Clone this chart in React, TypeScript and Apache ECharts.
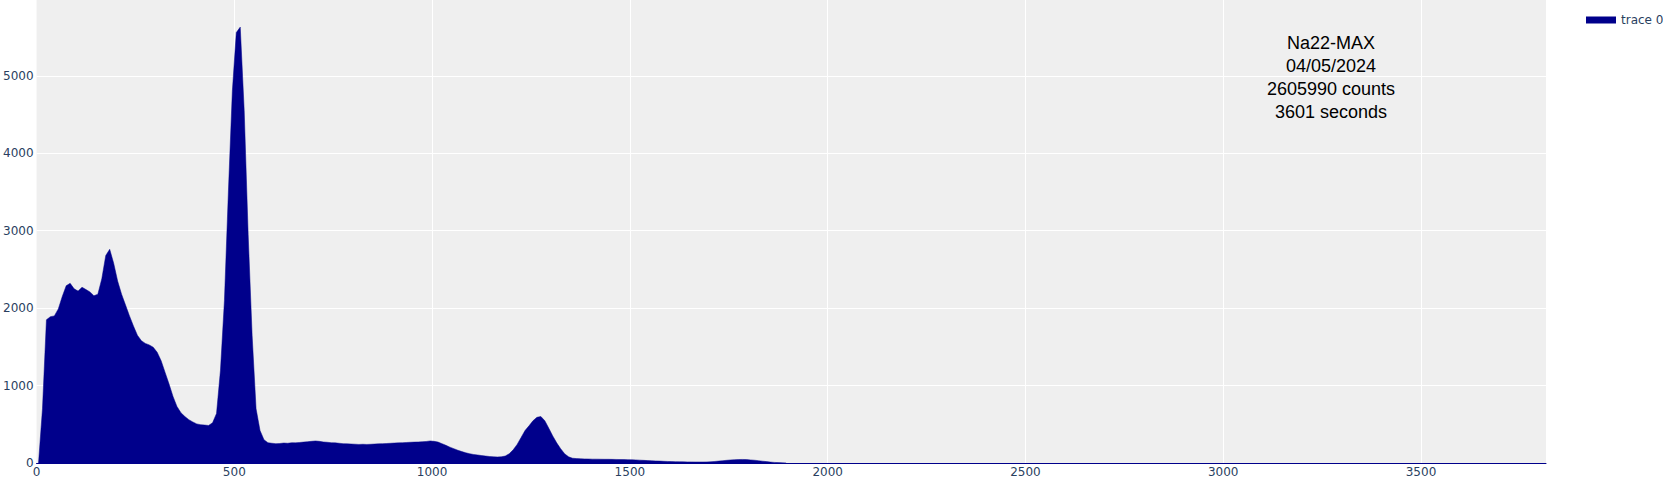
import React, { useEffect, useRef } from "react";
import * as echarts from "echarts";

// Histogram bin width (channels) and counts per channel
const BIN_WIDTH = 10;
const counts: number[] = [
  // 0 - 190
  0, 700, 1850, 1890, 1900, 1990, 2150, 2290, 2320, 2250,
  2220, 2270, 2240, 2210, 2160, 2180, 2380, 2680, 2760, 2580,
  // 200 - 390
  2350, 2180, 2040, 1900, 1770, 1650, 1580, 1545, 1525, 1495,
  1430, 1320, 1170, 1020, 860, 730, 650, 600, 560, 530,
  // 400 - 590
  505, 495, 490, 485, 520, 640, 1200, 2100, 3500, 4800,
  5560, 5630, 4550, 2950, 1650, 700, 420, 300, 262, 255,
  // 600 - 790
  250, 252, 258, 255, 262, 260, 265, 270, 275, 280,
  285, 280, 272, 268, 262, 260, 255, 250, 248, 245,
  // 800 - 990
  243, 240, 242, 240, 242, 245, 248, 250, 252, 255,
  258, 260, 262, 265, 268, 270, 272, 275, 278, 285,
  // 1000 - 1190
  280, 270, 250, 228, 205, 185, 165, 148, 132, 120,
  110, 104, 96, 90, 84, 80, 78, 80, 90, 120,
  // 1200 - 1390
  170, 240, 330, 420, 480, 545, 590, 600, 545, 450,
  350, 260, 185, 120, 80, 62, 57, 55, 53, 52,
  // 1400 - 1590
  50, 50, 49, 48, 48, 47, 46, 45, 44, 43,
  42, 40, 37, 34, 31, 29, 27, 25, 22, 20,
  // 1600 - 1790
  18, 17, 16, 15, 14, 14, 13, 13, 13, 14,
  16, 20, 25, 30, 35, 40, 43, 45, 46, 44,
  // 1800 - 1890
  40, 36, 30, 24, 18, 12, 8, 5, 3, 1,
];

const xTicks = [0, 500, 1000, 1500, 2000, 2500, 3000, 3500];
const yTicks = [0, 1000, 2000, 3000, 4000, 5000];
const annotationLines = ["Na22-MAX", "04/05/2024", "2605990 counts", "3601 seconds"];
const traceName = "trace 0";

const X_MAX = 3816;
const Y_MAX = 5980;
const BAR_COLOR = "#00008b";
const TICK_COLOR = "#2a3f5f";
const TICK_FONT = "'DejaVu Sans', Verdana, sans-serif";

export default function App() {
  const ref = useRef<HTMLDivElement>(null);

  useEffect(() => {
    if (!ref.current) return;
    const chart = echarts.init(ref.current, undefined, { renderer: "svg" });

    // each bin drawn at its centre
    const data: [number, number][] = counts.map((c, i) => [i * BIN_WIDTH + BIN_WIDTH / 2, c]);

    chart.setOption({
      animation: false,
      backgroundColor: "#ffffff",
      textStyle: { fontFamily: TICK_FONT },
      grid: {
        left: 33,
        right: 1663 - 1546,
        top: 0,
        bottom: 480 - 463,
        show: true,
        backgroundColor: "#efefef",
        borderWidth: 0,
        containLabel: false,
      },
      legend: {
        left: 1581,
        top: 9,
        itemWidth: 30,
        itemHeight: 7,
        itemGap: 5,
        icon: "rect",
        data: [{ name: traceName, icon: "rect", itemStyle: { color: BAR_COLOR } }],
        textStyle: {
          color: TICK_COLOR,
          fontSize: 12,
          fontFamily: TICK_FONT,
          padding: [0, 0, 0, 0],
        },
      },
      xAxis: {
        type: "value",
        min: 0,
        max: X_MAX,
        interval: 500,
        axisLine: { show: true, lineStyle: { color: BAR_COLOR, width: 1 } },
        axisTick: { show: false },
        axisLabel: {
          margin: 3,
          color: TICK_COLOR,
          fontSize: 12,
          fontFamily: TICK_FONT,
          formatter: (v: number) => (xTicks.includes(v) ? String(v) : ""),
        },
        splitLine: {
          show: true,
          showMinLine: false,
          showMaxLine: false,
          lineStyle: { color: "#ffffff", width: 1 },
        },
      },
      yAxis: {
        type: "value",
        min: 0,
        max: Y_MAX,
        interval: 1000,
        axisLine: { show: false },
        axisTick: { show: false },
        axisLabel: {
          margin: 3,
          color: TICK_COLOR,
          fontSize: 12,
          fontFamily: TICK_FONT,
          formatter: (v: number) => (yTicks.includes(v) ? String(v) : ""),
        },
        splitLine: {
          show: true,
          showMinLine: false,
          showMaxLine: false,
          lineStyle: { color: "#ffffff", width: 1 },
        },
      },
      graphic: [
        {
          type: "text",
          x: 1331,
          y: 31,
          z: 100,
          style: {
            text: annotationLines.join("\n"),
            fontSize: 18,
            lineHeight: 23,
            fontFamily: "'Liberation Sans', Arial, sans-serif",
            fill: "#000000",
            align: "center",
            verticalAlign: "top",
          },
        },
      ],
      series: [
        {
          name: traceName,
          type: "line",
          symbol: "none",
          data,
          lineStyle: { width: 0.5, color: BAR_COLOR },
          itemStyle: { color: BAR_COLOR },
          areaStyle: { color: BAR_COLOR, opacity: 1 },
          z: 2,
        },
      ],
    });

    return () => chart.dispose();
  }, []);

  return (
    <div
      ref={ref}
      style={{ position: "fixed", left: 0, top: 0, width: 1663, height: 480 }}
    />
  );
}
